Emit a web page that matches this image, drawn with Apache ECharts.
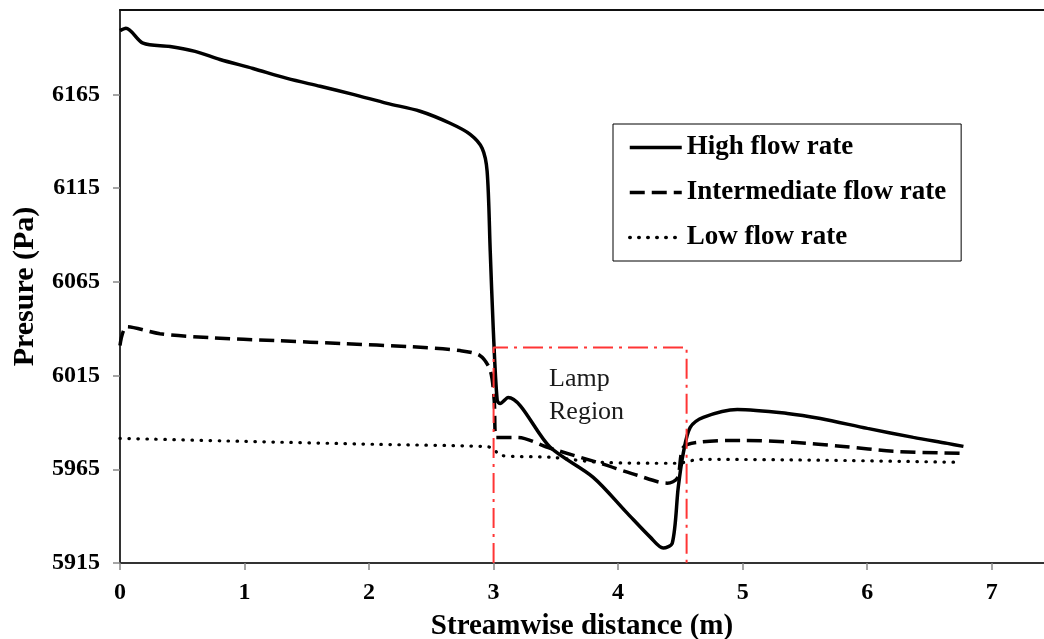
<!DOCTYPE html>
<html><head><meta charset="utf-8">
<script src="https://cdn.jsdelivr.net/npm/echarts@6/dist/echarts.min.js"></script>
<style>html,body{margin:0;padding:0;background:#fff}#c{width:1044px;height:639px}</style>
</head><body><div id="c"></div>
<script>
const seriesNames = ['High flow rate', 'Intermediate flow rate', 'Low flow rate'];

const highX = [0, 0.048, 0.185, 0.402, 0.603, 0.803, 1.068, 1.342, 1.607, 1.872, 2.145, 2.410, 2.651, 2.812, 2.908, 2.948, 2.973, 2.997, 3.029, 3.053, 3.117, 3.455, 3.800, 4.073, 4.258, 4.362, 4.435, 4.483, 4.523, 4.579, 4.684, 4.957, 5.359, 5.624, 6.002, 6.371, 6.644, 6.773];
const highY = [6199.0, 6200.3, 6192.3, 6190.5, 6187.9, 6183.6, 6178.8, 6173.5, 6169.3, 6165.0, 6160.2, 6156.0, 6149.6, 6143.7, 6136.3, 6124.0, 6081.5, 6040.5, 6001.7, 6000.1, 6003.3, 5976.7, 5960.7, 5941.6, 5928.8, 5923.0, 5925.6, 5955.4, 5973.5, 5987.3, 5992.7, 5996.9, 5994.8, 5992.1, 5986.8, 5982.0, 5978.8, 5977.2];

const midX = [0, 0.056, 0.321, 0.723, 1.261, 1.792, 2.330, 2.732, 2.892, 2.973, 3.005, 3.021, 3.093, 3.190, 3.455, 3.856, 4.154, 4.395, 4.475, 4.523, 4.636, 5.005, 5.407, 5.809, 6.210, 6.749];
const midY = [6031.0, 6041.1, 6037.3, 6035.2, 6033.6, 6032.0, 6030.4, 6028.3, 6025.6, 6017.7, 6001.7, 5982.0, 5982.0, 5982.0, 5976.2, 5968.2, 5961.8, 5957.6, 5960.2, 5976.7, 5979.4, 5980.4, 5979.4, 5977.2, 5974.6, 5973.5];

const lowX = [0, 0.988, 2.065, 2.916, 2.997, 3.053, 3.455, 3.856, 4.475, 4.660, 5.680, 6.749];
const lowY = [5981.5, 5979.9, 5978.3, 5977.2, 5976.2, 5972.4, 5971.4, 5968.7, 5968.2, 5970.3, 5969.8, 5968.7];

const lampBoxX = [3.0, 3.0, 4.55, 4.55];
const lampBoxY = [5915, 6030, 6030, 5915];

const xTicks = [0, 1, 2, 3, 4, 5, 6, 7];
const yTicks = [5915, 5965, 6015, 6065, 6115, 6165];

const zip = (xs, ys) => xs.map((x, i) => [x, ys[i]]);

const chart = echarts.init(document.getElementById('c'));
const serif = 'Liberation Serif, Times New Roman, serif';
chart.setOption({
  animation: false,
  backgroundColor: '#fff',
  grid: { left: 120, right: 0, top: 10, bottom: 76, containLabel: false, outerBoundsMode: 'none' },
  legend: {
    data: seriesNames,
    orient: 'vertical',
    left: 613, top: 124,
    padding: [10, 15, 10, 15],
    itemWidth: 52, itemHeight: 14, itemGap: 18,
    borderColor: '#000', borderWidth: 1,
    backgroundColor: '#fff',
    itemStyle: { opacity: 0, borderWidth: 0 },
    lineStyle: { width: 3.5 },
    textStyle: { fontFamily: serif, fontWeight: 'bold', fontSize: 27, color: '#000' }
  },
  xAxis: [{
    type: 'value', min: 0, max: 7.42, interval: 1,
    name: 'Streamwise distance (m)', nameLocation: 'middle', nameGap: 49,
    nameTextStyle: { fontFamily: serif, fontWeight: 'bold', fontSize: 29, color: '#000' },
    axisLine: { show: true, lineStyle: { color: '#333', width: 2 } },
    axisTick: { show: true, length: 7, lineStyle: { color: '#888', width: 1.5 }, customValues: xTicks },
    axisLabel: { fontFamily: serif, fontWeight: 'bold', fontSize: 24, color: '#000', margin: 18, customValues: xTicks, formatter: v => String(v) },
    splitLine: { show: false }
  }, {
    type: 'value', position: 'top', min: 0, max: 7.42,
    axisLine: { show: true, onZero: false, lineStyle: { color: '#111', width: 2 } },
    axisTick: { show: false }, axisLabel: { show: false }, splitLine: { show: false }
  }],
  yAxis: {
    type: 'value', min: 5915, max: 6210, interval: 50,
    name: 'Presure (Pa)', nameLocation: 'middle', nameGap: 80,
    nameTextStyle: { fontFamily: serif, fontWeight: 'bold', fontSize: 30, color: '#000' },
    axisLine: { show: true, lineStyle: { color: '#333', width: 2 } },
    axisTick: { show: true, length: 7, lineStyle: { color: '#888', width: 1.5 }, customValues: yTicks },
    axisLabel: { fontFamily: serif, fontWeight: 'bold', fontSize: 24, color: '#000', margin: 20, customValues: yTicks, formatter: v => String(v) },
    splitLine: { show: false }
  },
  graphic: [{
    type: 'text', left: 549, top: 363,
    style: { text: 'Lamp\nRegion', font: '26px ' + serif, fill: '#1a1a1a', lineHeight: 33 }
  }],
  series: [{
    name: seriesNames[0], type: 'line', data: zip(highX, highY),
    symbol: 'none', smooth: 0.3,
    lineStyle: { color: '#000', width: 3.5 }, itemStyle: { color: '#000' }
  }, {
    name: seriesNames[1], type: 'line', data: zip(midX, midY),
    symbol: 'none', smooth: 0.3,
    lineStyle: { color: '#000', width: 3.5, type: [15, 7] }, itemStyle: { color: '#000' }
  }, {
    name: seriesNames[2], type: 'line', data: zip(lowX, lowY),
    symbol: 'none', smooth: 0.3,
    lineStyle: { color: '#000', width: 3.2, type: [0.5, 8.5], cap: 'round' }, itemStyle: { color: '#000' }
  }, {
    name: 'Lamp box', type: 'line', data: zip(lampBoxX, lampBoxY),
    symbol: 'none', silent: true, z: 5,
    lineStyle: { color: '#ff3535', width: 2, type: [20, 6, 3, 6] }
  }]
});
</script>
</body></html>
